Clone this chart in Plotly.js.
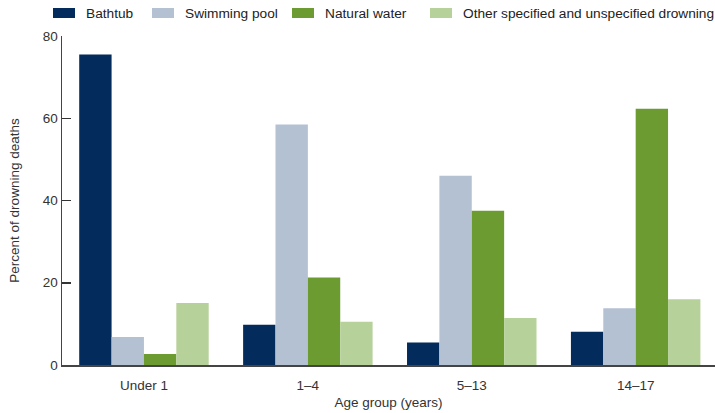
<!DOCTYPE html>
<html>
<head>
<meta charset="utf-8">
<script src="https://cdn.plot.ly/plotly-3.0.1.min.js"></script>
<style>html,body{margin:0;padding:0;background:#fff;}#chart{width:715px;height:413px;}</style>
</head>
<body>
<div id="chart"></div>
<script>
const categories = ["Under 1", "1–4", "5–13", "14–17"];
const seriesNames = ["Bathtub", "Swimming pool", "Natural water", "Other specified and unspecified drowning"];
const bathtub = [75.5, 9.8, 5.5, 8.1];
const swimmingPool = [6.8, 58.5, 46.0, 13.8];
const naturalWater = [2.7, 21.3, 37.5, 62.3];
const otherDrowning = [15.1, 10.5, 11.4, 16.0];
const colors = ["#032b5c", "#b3c1d3", "#6c9c31", "#b7d19b"];
const yTicks = [0, 20, 40, 60, 80];

const seriesValues = [bathtub, swimmingPool, naturalWater, otherDrowning];
const traces = seriesValues.map((vals, i) => ({
  type: "bar",
  name: seriesNames[i],
  x: categories,
  y: vals,
  marker: {color: colors[i], line: {width: 0}},
  showlegend: false,
  hoverinfo: "x+y+name"
}));

// Custom legend (swatches as shapes, labels as annotations), placed in pixels
const W = 715, H = 413;
const M = {l: 62, r: 0, t: 36, b: 48};
const pw = W - M.l - M.r, ph = H - M.t - M.b;
const px2x = p => (p - M.l) / pw;
const py2y = p => (H - M.b - p) / ph;
const legendSwatchX = [53, 152, 292, 430];
const shapes = [], annotations = [];
seriesNames.forEach((name, i) => {
  shapes.push({
    type: "rect", xref: "paper", yref: "paper",
    x0: px2x(legendSwatchX[i]), x1: px2x(legendSwatchX[i] + 22),
    y0: py2y(18), y1: py2y(8),
    fillcolor: colors[i], line: {width: 0}
  });
  annotations.push({
    xref: "paper", yref: "paper",
    x: px2x(legendSwatchX[i] + 31), y: py2y(13.5),
    xanchor: "left", yanchor: "middle",
    text: name, showarrow: false,
    font: {size: 13.7, color: "#222"}
  });
});

const fontFamily = "Liberation Sans, Arial, sans-serif";
const layout = {
  width: W,
  height: H,
  margin: M,
  paper_bgcolor: "#fff",
  plot_bgcolor: "#fff",
  font: {family: fontFamily, size: 13.5, color: "#333"},
  barmode: "group",
  bargap: 0.21,
  bargroupgap: 0,
  showlegend: false,
  shapes: shapes,
  annotations: annotations,
  xaxis: {
    type: "category",
    range: [-0.5, 3.484],
    showline: true, linecolor: "#444", linewidth: 1.5,
    ticks: "", showgrid: false, zeroline: false,
    ticklabelstandoff: 7,
    tickfont: {size: 13.5, color: "#333"},
    title: {text: "Age group (years)", font: {size: 13.5, color: "#333"}, standoff: 6}
  },
  yaxis: {
    range: [0, 80],
    tickvals: yTicks,
    ticktext: yTicks.map(String),
    ticks: "inside", ticklen: 9, tickwidth: 1.5, tickcolor: "#333",
    showline: true, linecolor: "#444", linewidth: 1.5,
    showgrid: false, zeroline: false,
    tickfont: {size: 13.5, color: "#333"},
    title: {text: "Percent of drowning deaths", font: {size: 13.5, color: "#333"}, standoff: 20}
  }
};

Plotly.newPlot("chart", traces, layout, {displayModeBar: false, staticPlot: true});
</script>
</body>
</html>
